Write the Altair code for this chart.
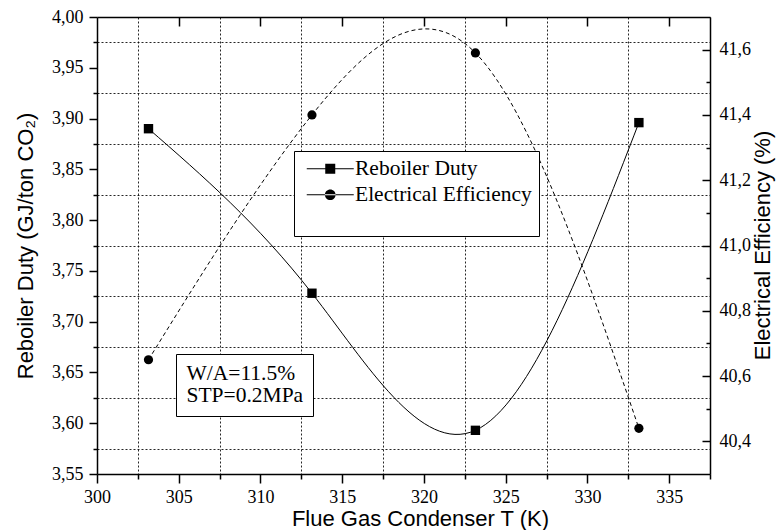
import altair as alt
import pandas as pd

# ---- data ----
temps = [303.15, 313.15, 323.15, 333.15]
reboiler_duty = [3.890, 3.728, 3.593, 3.896]
electrical_eff = [40.65, 41.40, 41.59, 40.44]
series_names = ["Reboiler Duty", "Electrical Efficiency"]
notes = ["W/A=11.5%", "STP=0.2MPa"]

x_ticks = [300, 302.5, 305, 307.5, 310, 312.5, 315, 317.5, 320, 322.5,
           325, 327.5, 330, 332.5, 335, 337.5]
x_top_ticks = [305, 310, 315, 320, 325, 330, 335]
y_left_ticks = [3.55, 3.575, 3.60, 3.625, 3.65, 3.675, 3.70, 3.725, 3.75,
                3.775, 3.80, 3.825, 3.85, 3.875, 3.90, 3.925, 3.95, 3.975, 4.00]
y_right_ticks = [40.4, 40.5, 40.6, 40.7, 40.8, 40.9, 41.0, 41.1, 41.2,
                 41.3, 41.4, 41.5, 41.6]

df_duty = pd.DataFrame({"T": temps, "v": reboiler_duty})
df_eff = pd.DataFrame({"T": temps, "v": electrical_eff})
df_series = pd.DataFrame({"series": series_names})
df_notes = pd.DataFrame({"note": notes})

SERIF = "Liberation Serif"
SANS = "Liberation Sans"

x_scale = alt.Scale(domain=[300, 337.5], nice=False, zero=False)
yl_scale = alt.Scale(domain=[3.55, 4.00], nice=False, zero=False)
yr_scale = alt.Scale(domain=[40.3, 41.7], nice=False, zero=False)

x_major = "datum.value % 5 == 0"
yl_major = "round(datum.value * 1000) % 50 == 0"
yr_major = "round(datum.value * 10) % 2 == 0"

x_axis_bottom = alt.Axis(
    orient="bottom", values=x_ticks,
    labelExpr=f"{x_major} ? format(datum.value, 'd') : ''",
    labelFont=SERIF, labelFontSize=18,
    tickSize={"condition": {"test": x_major, "value": 9}, "value": 5},
    labelPadding=5,
    grid=True, gridColor="black", gridDash=[2, 2], gridWidth=1,
    gridOpacity={"condition": {"test": x_major, "value": 0}, "value": 0.85},
    title="Flue Gas Condenser T (K)", titleX=323, titlePadding=2,
)
x_axis_top = alt.Axis(
    orient="top", values=x_top_ticks, labels=False, grid=False,
    tickSize={"expr": "-9"}, title=None, domain=True,
)
yl_axis = alt.Axis(
    orient="left", values=y_left_ticks,
    labelExpr=f"{yl_major} ? replace(format(datum.value, '.2f'), '.', ',') : ''",
    labelFont=SERIF, labelFontSize=18,
    tickSize={"condition": {"test": yl_major, "value": 8}, "value": 4},
    labelPadding=6,
    grid=True, gridColor="black", gridDash=[2, 2], gridWidth=1,
    gridOpacity={"condition": {"test": yl_major, "value": 0}, "value": 0.85},
    title="Reboiler Duty (GJ/ton CO₂)", titlePadding=14,
)
yr_axis = alt.Axis(
    orient="right", values=y_right_ticks,
    labelExpr=f"{yr_major} ? replace(format(datum.value, '.1f'), '.', ',') : ''",
    labelFont=SERIF, labelFontSize=18,
    tickSize={"condition": {"test": yr_major, "value": -8}, "value": -4},
    labelPadding=17, grid=False,
    title="Electrical Efficiency (%)", titleAngle=270,
    titleX=52, titleY=228, titleBaseline="middle", titleAlign="center",
)

X = alt.X("T:Q", scale=x_scale, axis=x_axis_bottom)
X_top = alt.X("T:Q", scale=x_scale, axis=x_axis_top)
YL = alt.Y("v:Q", scale=yl_scale, axis=yl_axis)
YR = alt.Y("v:Q", scale=yr_scale, axis=yr_axis)

duty_line = alt.Chart(df_duty).mark_line(
    interpolate="natural", color="black", strokeWidth=1
).encode(x=X, y=YL)
duty_pts = alt.Chart(df_duty).mark_square(
    size=88, color="black", opacity=1
).encode(x=X, y=YL)

# legend symbols: a line with the marker in its middle
sq_path = "M-4.7,-0.1H4.7V0.1H-4.7Z M-1,-1H1V1H-1Z"
ci_path = ("M-4.7,-0.1H4.7V0.1H-4.7Z M-1.07,0A1.07,1.07 0 1,0 1.07,0"
           "A1.07,1.07 0 1,0 -1.07,0Z")

legend_src = alt.Chart(df_series).mark_point(
    filled=True, opacity=0, color="black"
).encode(
    shape=alt.Shape(
        "series:N",
        scale=alt.Scale(domain=series_names, range=[sq_path, ci_path]),
        legend=alt.Legend(
            title="\u00a0", titleOrient="bottom", titleFontSize=20,
            titlePadding=4,
            orient="none", legendX=197, legendY=134,
            padding=7, strokeColor="black", fillColor="white",
            symbolSize=100, symbolOffset=18.5, symbolFillColor="black",
            symbolStrokeWidth=0, symbolOpacity=1,
            labelFont=SERIF, labelFontSize=21.5,
            labelColor="black", labelOffset=14, rowPadding=3,
            labelLimit=400,
        ),
    )
)

note_src = alt.Chart(df_notes).mark_point(opacity=0, size=1).encode(
    color=alt.Color(
        "note:N",
        scale=alt.Scale(domain=notes, range=["black", "black"]),
        legend=alt.Legend(
            title=None, orient="none", legendX=79, legendY=337,
            padding=9, strokeColor="black", fillColor="white",
            symbolSize=1, symbolOpacity=0, symbolStrokeWidth=0,
            labelFont=SERIF, labelFontSize=21.5,
            labelColor="black", labelOffset={"expr": "-20"}, rowPadding=-2,
            labelLimit=400,
        ),
    )
)

eff_line = alt.Chart(df_eff).mark_line(
    interpolate="natural", color="black", strokeWidth=1, strokeDash=[4, 3]
).encode(x=X_top, y=YR)
eff_pts = alt.Chart(df_eff).mark_circle(
    size=85, color="black", opacity=1
).encode(x=X_top, y=YR)

left = alt.layer(duty_line, duty_pts, legend_src, note_src)
right = alt.layer(eff_line, eff_pts)

chart = alt.layer(left, right).resolve_scale(
    y="independent"
).resolve_axis(
    x="independent", y="independent"
).properties(
    width=613, height=457,
    autosize=alt.AutoSizeParams(type="none"),
    padding={"left": 97, "top": 17, "right": 69, "bottom": 56},
    background="white",
).configure_view(stroke=None).configure_axis(
    labelColor="black",
    titleFont=SANS, titleFontSize=22, titleFontWeight="normal",
    titleColor="black", domainColor="black", domainWidth=1.5,
    tickColor="black", tickWidth=1.5, labelFlush=False, labelOverlap=False,
)

chart.save("out.html", embed_options={"renderer": "svg", "actions": False})
